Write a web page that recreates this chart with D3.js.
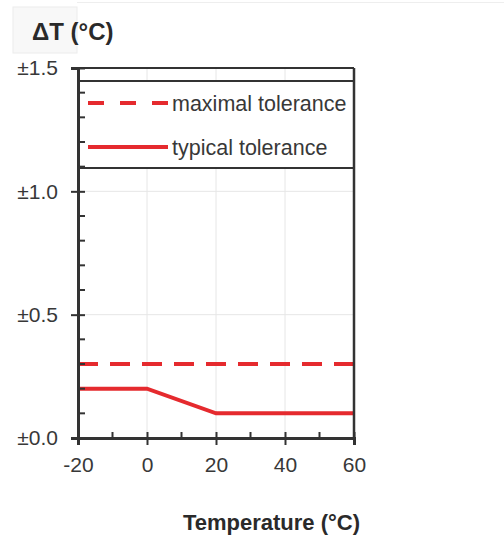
<!DOCTYPE html>
<html><head><meta charset="utf-8">
<script src="https://cdn.jsdelivr.net/npm/d3@7"></script>
<style>body{margin:0;background:#fff}svg{display:block}</style>
</head><body>
<svg id="c" width="504" height="549"></svg>
<script>
// Data
const xTicks = [-20, 0, 20, 40, 60];
const xTickLabels = ["-20", "0", "20", "40", "60"];
const xMinor = [-10, 10, 30, 50];
const yTicks = [0, 0.5, 1.0, 1.5];
const yTickLabels = ["±0.0", "±0.5", "±1.0", "±1.5"];
const yMinor = [0.1,0.2,0.3,0.4,0.6,0.7,0.8,0.9,1.1,1.2,1.3,1.4];
const maxTemp = [-20, 60];
const maxTol = [0.3, 0.3];
const typTemp = [-20, 0, 20, 60];
const typTol = [0.2, 0.2, 0.1, 0.1];
const legendLabels = ["maximal tolerance", "typical tolerance"];
const yTitle = "ΔT (°C)";
const xTitle = "Temperature (°C)";

const svg = d3.select("#c");
const x = d3.scaleLinear().domain([-20, 60]).range([78, 354]);
const y = d3.scaleLinear().domain([0, 1.5]).range([438, 68]);
const red = "#e52a2e", dark = "#333", txt = "#383838";
const font = "'Liberation Sans', Arial, sans-serif";

// faint background panels
svg.append("rect").attr("x",13).attr("y",7).attr("width",64).attr("height",46)
  .attr("fill","#f8f8f8").attr("stroke","#ececec").attr("stroke-width",1);
svg.append("line").attr("x1",77).attr("x2",504).attr("y1",2.5).attr("y2",2.5)
  .attr("stroke","#eeeeee");

// gridlines
svg.append("g").selectAll("line").data(xTicks).join("line")
  .attr("x1",d=>x(d)).attr("x2",d=>x(d)).attr("y1",y(1.5)).attr("y2",y(0))
  .attr("stroke","#e6e6e6").attr("stroke-width",1);
svg.append("g").selectAll("line").data(yTicks).join("line")
  .attr("x1",x(-20)).attr("x2",x(60)).attr("y1",d=>y(d)).attr("y2",d=>y(d))
  .attr("stroke","#e6e6e6").attr("stroke-width",1);

// data lines
const line = d3.line().x(d=>x(d[0])).y(d=>y(d[1]));
svg.append("path").datum(maxTemp.map((t,i)=>[t,maxTol[i]])).attr("d",line)
  .attr("fill","none").attr("stroke",red).attr("stroke-width",4).attr("stroke-dasharray","20,12");
svg.append("path").datum(typTemp.map((t,i)=>[t,typTol[i]])).attr("d",line)
  .attr("fill","none").attr("stroke",red).attr("stroke-width",4);

// legend box
const lgTop = 81, lgBot = 168;
svg.append("rect").attr("x",x(-20)).attr("y",lgTop).attr("width",x(60)-x(-20)).attr("height",lgBot-lgTop)
  .attr("fill","#fff").attr("stroke",dark).attr("stroke-width",2);
const lg = svg.append("g");
[103, 147].forEach((yy,i)=>{
  lg.append("line").attr("x1",88).attr("x2",168).attr("y1",yy).attr("y2",yy)
    .attr("stroke",red).attr("stroke-width",4).attr("stroke-dasharray", i===0 ? "16,16" : null);
  lg.append("text").attr("x",172).attr("y",yy).attr("dy","0.35em")
    .attr("font-family",font).attr("font-size",21.5).attr("fill",txt).text(legendLabels[i]);
});

// frame: top & right
svg.append("line").attr("x1",x(-20)).attr("x2",x(60)).attr("y1",y(1.5)).attr("y2",y(1.5))
  .attr("stroke",dark).attr("stroke-width",2);
svg.append("line").attr("x1",x(60)).attr("x2",x(60)).attr("y1",y(1.5)).attr("y2",y(0))
  .attr("stroke",dark).attr("stroke-width",2.5);

// Y axis
const yAx = svg.append("g").attr("transform",`translate(${x(-20)},0)`)
  .call(d3.axisLeft(y).tickValues(yTicks).tickFormat((d,i)=>yTickLabels[i]).tickSize(7).tickPadding(13));
yAx.select(".domain").attr("stroke",dark).attr("stroke-width",3);
yAx.selectAll(".tick line").attr("stroke",dark).attr("stroke-width",2).attr("x2",-7).attr("x1",7);
yAx.selectAll("text").attr("font-family",font).attr("font-size",21).attr("fill",txt);
svg.append("g").selectAll("line").data(yMinor).join("line")
  .attr("x1",x(-20)).attr("x2",x(-20)+7).attr("y1",d=>y(d)).attr("y2",d=>y(d))
  .attr("stroke",dark).attr("stroke-width",2);

// X axis
const xAx = svg.append("g").attr("transform",`translate(0,${y(0)})`)
  .call(d3.axisBottom(x).tickValues(xTicks).tickFormat((d,i)=>xTickLabels[i]).tickSize(7).tickPadding(12));
xAx.select(".domain").attr("stroke",dark).attr("stroke-width",3);
xAx.selectAll(".tick line").attr("stroke",dark).attr("stroke-width",2).attr("y1",-6).attr("y2",7);
xAx.selectAll("text").attr("font-family",font).attr("font-size",21).attr("fill",txt);
svg.append("g").selectAll("line").data(xMinor).join("line")
  .attr("x1",d=>x(d)).attr("x2",d=>x(d)).attr("y1",y(0)).attr("y2",y(0)-6)
  .attr("stroke",dark).attr("stroke-width",2);

// titles
svg.append("text").attr("x",32).attr("y",40).attr("font-family",font).attr("font-weight","bold")
  .attr("font-size",24).attr("fill","#2a2a2a").text(yTitle);
svg.append("text").attr("x",360).attr("y",530).attr("text-anchor","end").attr("font-family",font)
  .attr("font-weight","bold").attr("font-size",22).attr("fill","#2a2a2a").text(xTitle);
</script>
</body></html>
